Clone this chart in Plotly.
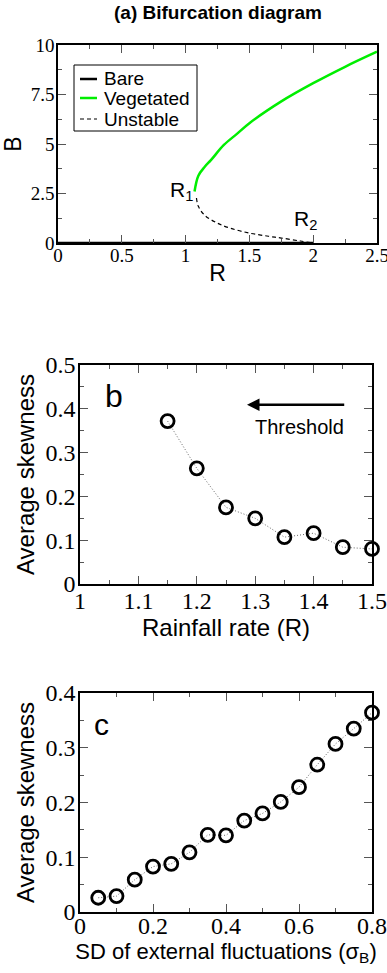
import plotly.graph_objects as go

# Panel (a): bifurcation branches
bare_R = [0.0, 2.0]
bare_B = [0.0, 0.0]
veg_R = [1.07, 1.1, 1.15, 1.2, 1.3, 1.4, 1.5, 1.75, 2.0, 2.25, 2.5]
veg_B = [2.6, 3.4, 3.85, 4.2, 4.95, 5.5, 6.05, 7.15, 8.07, 8.9, 9.66]
uns_R = [1.085, 1.1, 1.15, 1.25, 1.35, 1.5, 1.65, 1.75, 1.9, 2.0]
uns_B = [2.27, 1.85, 1.4, 1.0, 0.75, 0.5, 0.34, 0.25, 0.1, 0.0]

# Panel (b): skewness vs rainfall
rain = [1.15, 1.2, 1.25, 1.3, 1.35, 1.4, 1.45, 1.5]
skew_b = [0.372, 0.264, 0.175, 0.150, 0.107, 0.116, 0.084, 0.080]

# Panel (c): skewness vs noise SD
sigma = [0.05, 0.1, 0.15, 0.2, 0.25, 0.3, 0.35, 0.4, 0.45, 0.5, 0.55, 0.6, 0.65, 0.7, 0.75, 0.8]
skew_c = [0.026, 0.029, 0.059, 0.083, 0.088, 0.109, 0.141, 0.140, 0.167, 0.180, 0.201, 0.228,
          0.269, 0.307, 0.335, 0.364]

W, H = 387, 973
SERIF = "Liberation Serif"
SANS = "Liberation Sans"

BARE_STYLE = dict(color="black", width=2.5)
VEG_STYLE = dict(color="#00ee00", width=2.5)
UNS_STYLE = dict(color="black", width=1.2, dash="4px,3px")

fig = go.Figure()

fig.add_trace(go.Scatter(x=bare_R, y=bare_B, mode="lines", name="Bare", showlegend=False,
                         line=BARE_STYLE, xaxis="x", yaxis="y"))
fig.add_trace(go.Scatter(x=veg_R, y=veg_B, mode="lines", name="Vegetated", showlegend=False,
                         line_shape="spline", line=VEG_STYLE, xaxis="x", yaxis="y"))
fig.add_trace(go.Scatter(x=uns_R, y=uns_B, mode="lines", name="Unstable", showlegend=False,
                         line_shape="spline", line=UNS_STYLE, xaxis="x", yaxis="y"))

marker = dict(symbol="circle-open", size=13, color="black", line=dict(width=2.8, color="black"))
dotted = dict(color="#666666", width=1, dash="1px,2px")
fig.add_trace(go.Scatter(x=rain, y=skew_b, mode="lines+markers", showlegend=False,
                         line=dotted, marker=marker, xaxis="x2", yaxis="y2", cliponaxis=False))
fig.add_trace(go.Scatter(x=sigma, y=skew_c, mode="lines+markers", showlegend=False,
                         line=dotted, marker=marker, xaxis="x3", yaxis="y3", cliponaxis=False))


def axis(domain, rng, dtick, minor, size, anchor, title=None, tsize=18, standoff=None, lstand=0):
    d = dict(domain=domain, range=rng, dtick=dtick, tick0=rng[0], ticks="inside", ticklen=8,
             tickwidth=1, tickcolor="#555555", showline=True, linecolor="black", linewidth=1.5,
             mirror="allticks", showgrid=False, zeroline=False, anchor=anchor, tickformat="~g",
             automargin=False, ticklabelstandoff=lstand, ticklabeloverflow="allow",
             tickfont=dict(family=SERIF, size=size, color="black"),
             minor=dict(dtick=minor, ticks="inside", ticklen=4, tickcolor="#555555", showgrid=False))
    if title:
        d["title"] = dict(text=title, font=dict(family=SANS, size=tsize, color="black"))
        if standoff is not None:
            d["title"]["standoff"] = standoff
    return d


def px_x(p):
    return p / W


def px_y(p):
    return 1 - p / H


fig.update_layout(
    width=W, height=H, margin=dict(l=0, r=0, t=0, b=0, autoexpand=False),
    paper_bgcolor="white", plot_bgcolor="white", showlegend=False,
    xaxis=axis([px_x(58), px_x(377)], [0, 2.5], 0.5, 0.25, 19, "y", "R", 23, 0, -6),
    yaxis=axis([px_y(243), px_y(45)], [0, 10], 2.5, 1.25, 19, "x", "B", 23, 4, -2),
    xaxis2=axis([px_x(80), px_x(372)], [1, 1.5], 0.1, 0.05, 24, "y2", "Rainfall rate (R)", 24, 0, -6),
    yaxis2=axis([px_y(584), px_y(365)], [0, 0.5], 0.1, 0.05, 24, "x2", "Average skewness", 24, 4, -2),
    xaxis3=axis([px_x(80), px_x(372)], [0, 0.8], 0.2, 0.1, 24, "y3",
                "SD of external fluctuations (σ<sub>B</sub>)", 22, 0, -9),
    yaxis3=axis([px_y(912), px_y(693)], [0, 0.4], 0.1, 0.05, 24, "x3", "Average skewness", 24, 4, -2),
)

# Legend box for panel (a)
legend_entries = [("Bare", BARE_STYLE, 79), ("Vegetated", VEG_STYLE, 98), ("Unstable", UNS_STYLE, 119)]
shapes = [dict(type="rect", xref="paper", yref="paper", x0=px_x(74), x1=px_x(197),
               y0=px_y(131), y1=px_y(65), line=dict(color="black", width=1), fillcolor="white",
               layer="above")]
annotations = []
for label, style, yp in legend_entries:
    shapes.append(dict(type="line", xref="paper", yref="paper", x0=px_x(80), x1=px_x(97),
                       y0=px_y(yp), y1=px_y(yp), line=style, layer="above"))
    annotations.append(dict(text=label, x=px_x(102), y=px_y(yp), xref="paper", yref="paper",
                            xanchor="left", yanchor="middle", showarrow=False,
                            font=dict(family=SANS, size=19, color="black")))

annotations += [
    dict(text="<b>(a) Bifurcation diagram</b>", x=px_x(218), y=px_y(12), xref="paper", yref="paper",
         yanchor="middle", showarrow=False, font=dict(family=SANS, size=19, color="black")),
    dict(text="R<sub>1</sub>", x=1.07, y=2.65, xref="x", yref="y", xanchor="right", yanchor="middle",
         showarrow=False, font=dict(family=SANS, size=21, color="black")),
    dict(text="R<sub>2</sub>", x=1.94, y=1.15, xref="x", yref="y", xanchor="center", yanchor="middle",
         showarrow=False, font=dict(family=SANS, size=21, color="black")),
    dict(text="b", x=1.04, y=0.43, xref="x2", yref="y2", xanchor="left", showarrow=False,
         font=dict(family=SANS, size=32, color="black")),
    dict(text="c", x=0.032, y=0.343, xref="x3", yref="y3", xanchor="left", showarrow=False,
         font=dict(family=SANS, size=30, color="black")),
    dict(text="Threshold", x=1.375, y=0.358, xref="x2", yref="y2", showarrow=False,
         font=dict(family=SANS, size=20, color="black")),
    dict(text="", x=1.286, y=0.409, ax=1.455, ay=0.409, xref="x2", yref="y2", axref="x2", ayref="y2",
         showarrow=True, arrowhead=2, arrowsize=1, arrowwidth=2.5, arrowcolor="black"),
]
fig.update_layout(shapes=shapes, annotations=annotations)

fig.write_html("out.html")
